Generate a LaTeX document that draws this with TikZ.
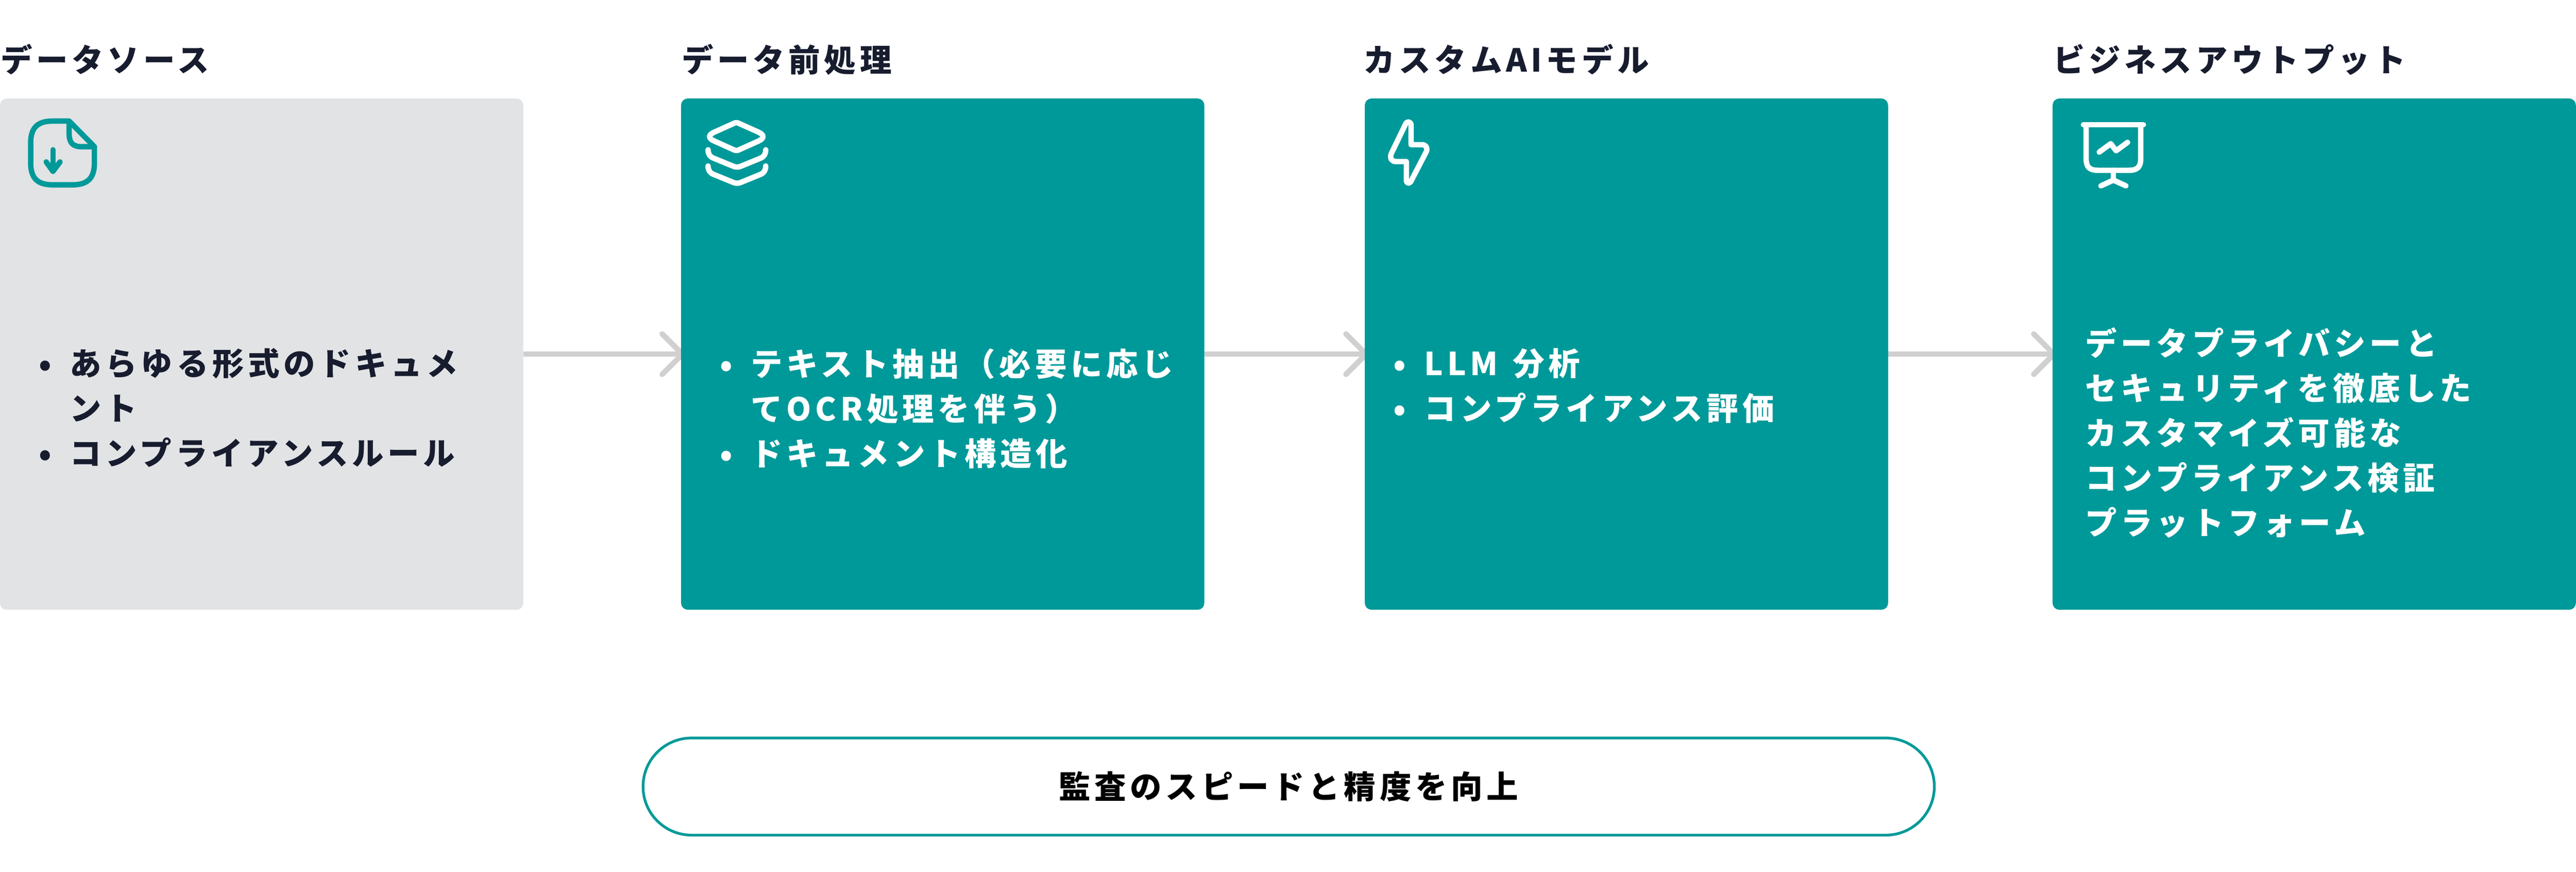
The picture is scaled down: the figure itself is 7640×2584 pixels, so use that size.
\documentclass[tikz,border=0pt]{standalone}
\usepackage{fontspec}
\setmainfont[LetterSpace=12.5]{Noto Sans CJK JP}
\usetikzlibrary{positioning,arrows.meta,backgrounds}

\definecolor{tealfill}{HTML}{009999}
\definecolor{greyfill}{HTML}{E1E3E5}
\definecolor{arrowgrey}{HTML}{D0D0D0}
\definecolor{inkdark}{HTML}{171C2E}

\newcommand{\bulletitem}{\makebox[9.2pt][l]{•}}
\newcommand{\bulletgap}{\hspace*{9.2pt}}

\begin{document}
\begin{tikzpicture}[
  x = 0.1pt,
  y = -0.1pt,
  boxnode/.style = {rectangle, fill = tealfill, rounded corners = 2pt, minimum width = 155.2pt,
    minimum height = 151.6pt, inner sep = 0pt, outer sep = 0pt},
  headlabel/.style = {anchor = base west, inner sep = 0pt, text = inkdark,
    font = \fontsize{9.4}{11}\selectfont\bfseries},
  bodytext/.style = {anchor = north west, inner sep = 0pt, align = left, text = white,
    font = \fontsize{9.4}{13.3}\selectfont\bfseries},
  flowarrow/.style = {draw = arrowgrey, line width = 1.6pt, shorten > = -1.2pt,
    -{Straight Barb[length = 6pt, width = 12pt, round]}},
  iconline/.style = {line width = 1.6pt, line cap = round, line join = round},
  pillnode/.style = {rectangle, draw = tealfill, line width = 0.8pt, rounded corners = 14.4pt,
    minimum width = 383pt, minimum height = 28.8pt, inner sep = 0pt, outer sep = 0pt,
    text = black, font = \fontsize{9.4}{11}\selectfont\bfseries}
]

\useasboundingbox (0,0) rectangle (7640,2584);

% boxes
\node (boxSource) [boxnode, fill = greyfill, anchor = north west] at (0,292) {};
\node (boxPrep) [boxnode, right = 46.8pt of boxSource] {};
\node (boxModel) [boxnode, right = 47.6pt of boxPrep] {};
\node (boxOutput) [boxnode, right = 48.8pt of boxModel] {};

% headings
\node (headSource) [headlabel, yshift = 7.9pt] at (boxSource.north west) {データソース};
\node (headPrep) [headlabel, yshift = 7.9pt] at (boxPrep.north west) {データ前処理};
\node (headModel) [headlabel, yshift = 7.9pt, xshift = -0.6pt] at (boxModel.north west) {カスタムAIモデル};
\node (headOutput) [headlabel, yshift = 7.9pt] at (boxOutput.north west) {ビジネスアウトプット};

% box texts
\node (textSource) [bodytext, text = inkdark, below right = 73.9pt and 11.3pt of boxSource.north west] {%
  \bulletitem あらゆる形式のドキュメ\\
  \bulletgap ント\\
  \bulletitem コンプライアンスルール};
\node (textPrep) [bodytext, below right = 73.9pt and 11.3pt of boxPrep.north west] {%
  \bulletitem テキスト抽出（必要に応じ\\
  \bulletgap てOCR処理を伴う）\\
  \bulletitem ドキュメント構造化};
\node (textModel) [bodytext, below right = 73.9pt and 8.3pt of boxModel.north west] {%
  \bulletitem LLM\hspace{1pt} 分析\\
  \bulletitem コンプライアンス評価};
\node (textOutput) [bodytext, below right = 67.7pt and 9.5pt of boxOutput.north west] {%
  データプライバシーと\\
  セキュリティを徹底した\\
  カスタマイズ可能な\\
  コンプライアンス検証\\
  プラットフォーム};

% arrows
\begin{scope}[on background layer]
  \draw [flowarrow] (boxSource) -- (boxPrep);
  \draw [flowarrow] (boxPrep) -- (boxModel);
  \draw [flowarrow] (boxModel) -- (boxOutput);
\end{scope}

% bottom label
\node (pillGoal) [pillnode] at (3822,2332) {監査のスピードと精度を向上};

% file icon
\draw [iconline, draw = tealfill] (156,359) -- (205,359) -- (280,435) -- (280,483)
  .. controls (280,528) and (260,548) .. (215,548) -- (156,548)
  .. controls (111,548) and (91,528) .. (91,483) -- (91,424)
  .. controls (91,379) and (111,359) .. (156,359);
\draw [iconline, draw = tealfill] (205,359) -- (205,395)
  .. controls (205,423) and (215,435) .. (243,435) -- (280,435);
\draw [iconline, draw = tealfill] (157,444) -- (157,500);
\draw [iconline, draw = tealfill] (137,480) -- (157,508) -- (178,480);

% layers icon
\draw [iconline, draw = white] (2176,366) -- (2118,392)
  .. controls (2100,400) and (2100,410) .. (2118,418) -- (2176,444)
  .. controls (2181,447) and (2187,447) .. (2192,444) -- (2250,418)
  .. controls (2267,410) and (2267,400) .. (2250,392) -- (2192,366)
  .. controls (2187,363) and (2181,363) .. (2176,366) -- cycle;
\foreach \dy in {0,48} {
  \draw [iconline, draw = white] (2100,444+\dy) .. controls (2100,456+\dy) and (2105,464+\dy) .. (2114,468+\dy)
    -- (2175,493+\dy) .. controls (2182,496+\dy) and (2190,496+\dy) .. (2197,493+\dy)
    -- (2258,468+\dy) .. controls (2266,464+\dy) and (2271,456+\dy) .. (2271,444+\dy);
}

% bolt icon
\draw [iconline, draw = white] (4169,367) .. controls (4174,358) and (4185,360) .. (4185,372)
  -- (4185,429) -- (4217,429) .. controls (4228,429) and (4234,436) .. (4231,448)
  -- (4187,533) .. controls (4182,546) and (4171,546) .. (4171,534)
  -- (4171,479) -- (4140,479) .. controls (4128,479) and (4121,470) .. (4126,456) -- cycle;

% board icon
\draw [iconline, draw = white] (6179,370) -- (6357,370);
\draw [iconline, draw = white] (6187,370) -- (6187,470)
  .. controls (6187,495) and (6197,505) .. (6222,505) -- (6314,505)
  .. controls (6339,505) and (6349,495) .. (6349,470) -- (6349,370);
\draw [iconline, draw = white] (6268,505) -- (6268,534);
\draw [iconline, draw = white] (6231,551) -- (6268,534) -- (6305,551);
\draw [iconline, draw = white] (6226,451) -- (6260,426) -- (6276,447) -- (6310,422);

\end{tikzpicture}
\end{document}
